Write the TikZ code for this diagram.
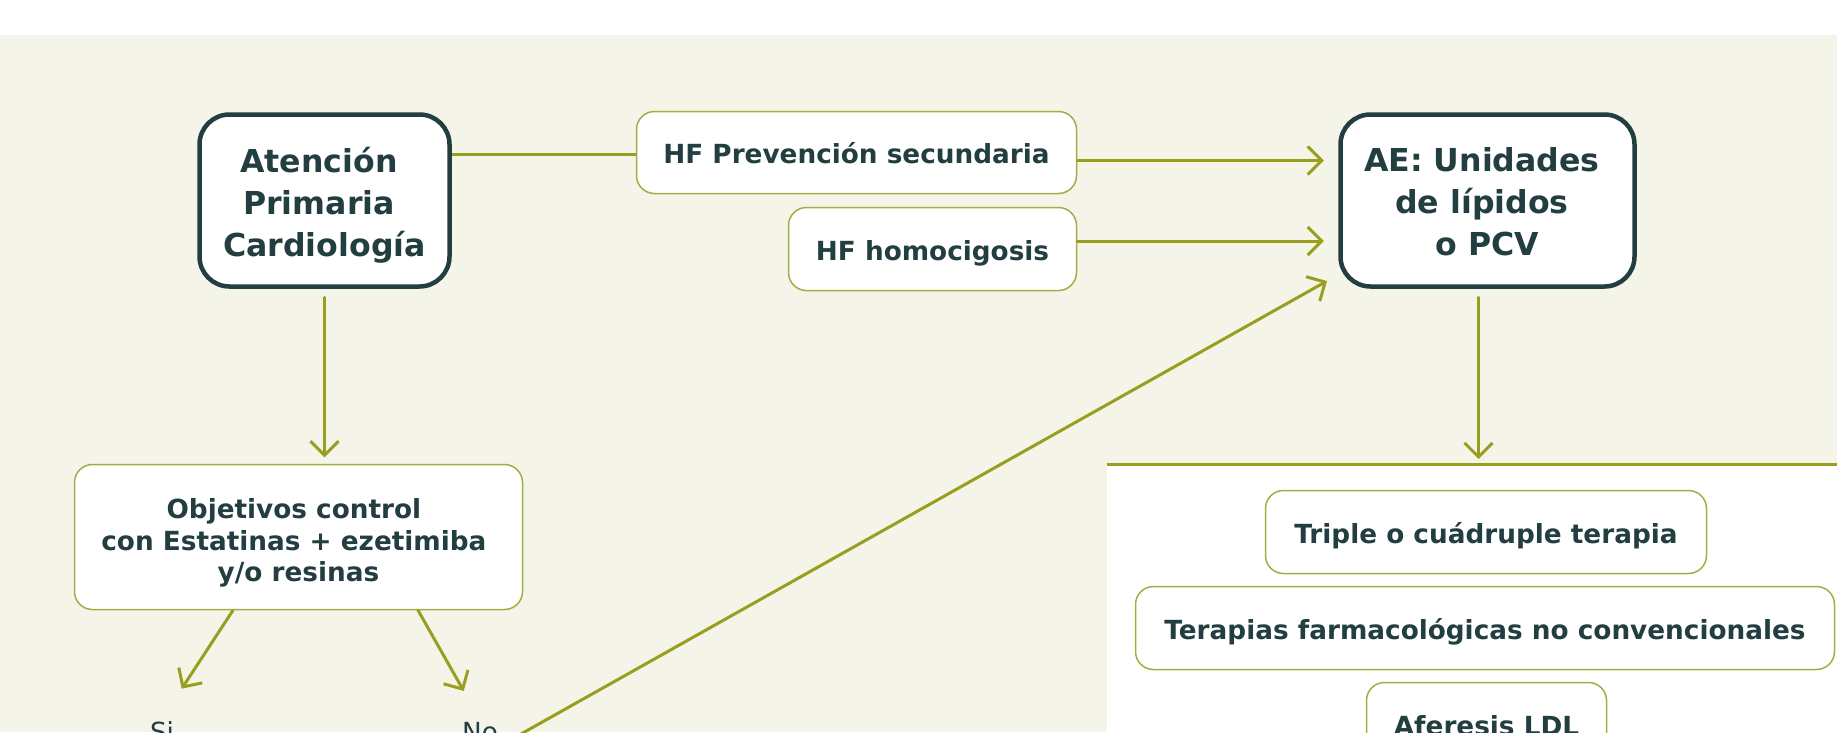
\documentclass[tikz,border=0pt]{standalone}
\usepackage{fontspec}
\setmainfont{DejaVu Sans}
\usetikzlibrary{arrows.meta}
\definecolor{bg}{HTML}{F4F4E9}
\definecolor{dark}{HTML}{223E40}
\definecolor{olive}{HTML}{9A9E1E}
\definecolor{oliveb}{HTML}{A8AB45}
\newcommand{\tsp}{\kern0.348em}
\begin{document}
\begin{tikzpicture}[x=1pt,y=-1pt,
  bigbox/.style={draw=dark, line width=4.5pt, fill=white, rounded corners=30pt, inner sep=0pt},
  bigtext/.style={align=center, text=dark, font=\fontsize{31.6}{42}\selectfont\bfseries, inner sep=0pt},
  boxframe/.style={draw=oliveb, line width=1.5pt, fill=white, rounded corners=18pt, inner sep=0pt},
  smalltext/.style={align=center, text=dark, font=\fontsize{26.3}{31.6}\selectfont\bfseries, inner sep=0pt},
  smallbox/.style={boxframe, smalltext, text height=22pt, text depth=0pt},
  lbl/.style={text=dark, font=\fontsize{26.3}{31.6}\selectfont, inner sep=2pt},
  conn/.style={draw=olive, line width=3pt},
  arr/.style={conn, -{Straight Barb[length=14pt,width=28pt]}, line cap=round, line join=round}]
\useasboundingbox (0,0) rectangle (1837,732);
\clip (0,0) rectangle (1837,732);
\fill[white] (0,0) rectangle (1837,732);
\fill[bg] (0,35) rectangle (1837,732);
\fill[white] (1107,464) rectangle (1837,732);
\coordinate (bandL) at (1107,464);
\coordinate (bandR) at (1837,464);
\draw[conn] (bandL) -- (bandR);

% main boxes
\node[bigbox, minimum width=250pt, minimum height=172pt] (aten) at (324.5,200.5) {};
\node[bigtext] (atenT) at ([yshift=-5pt]aten.center) {Atención\tsp\\Primaria\tsp\\Cardiología};
\node[bigbox, minimum width=294pt, minimum height=172pt] (ae) at (1487.5,200.5) {};
\node[bigtext] (aeT) at ([yshift=-1.5pt]ae.center) {AE: Unidades\tsp\\de lípidos\tsp\\o PCV};
\node[boxframe, minimum width=448pt, minimum height=145pt] (obj) at (298.5,537) {};
\node[smalltext] (objT) at ([yshift=-6pt]obj.center) {Objetivos control\tsp\\con Estatinas + ezetimiba\tsp\\y/o resinas};

% single-line boxes
\node[smallbox, minimum width=440pt, minimum height=82pt] (hfp) at (856.5,152.5) {HF Prevención secundaria};
\node[smallbox, minimum width=288pt, minimum height=83pt] (hfh) at (932.5,249) {HF homocigosis};
\node[smallbox, minimum width=441pt, minimum height=83pt] (tri) at (1486,532) {Triple o cuádruple terapia};
\node[smallbox, minimum width=699pt, minimum height=83pt] (ter) at (1485,628) {Terapias farmacológicas no convencionales};
\node[smallbox, minimum width=240pt, minimum height=83pt] (afe) at (1486.5,724) {Aferesis LDL};

% labels
\node[lbl, anchor=base] (si) at (162,741) {Si};
\node[lbl, anchor=base] (no) at (480,741) {No};
\coordinate (aeIn) at (1327,281);

% connectors
\draw[conn] ([yshift=-2pt]hfp.west -| aten.east) -- ([yshift=-2pt]hfp.west);
\draw[arr, shorten >=14.5pt] ([yshift=-8pt]hfp.east) -- ([yshift=-8pt]hfp.east -| ae.west);
\draw[arr, shorten >=14.5pt] ([yshift=8pt]hfh.east) -- ([yshift=8pt]hfh.east -| ae.west);
\draw[arr, shorten <=8.5pt, shorten >=6.5pt] (aten.south) -- (aten.south |- obj.north);
\draw[arr, shorten <=8.5pt, shorten >=5pt] ([xshift=-9pt]ae.south) -- ([xshift=-9pt]ae.south |- bandL);
\draw[arr, shorten >=36pt] ([xshift=-65.5pt]obj.south) -- (si.north);
\draw[arr, shorten >=33pt] ([xshift=119.5pt]obj.south) -- (no.north);
\draw[arr] ([xshift=12pt,yshift=2pt]no.base east) -- (aeIn);
\end{tikzpicture}
\end{document}
